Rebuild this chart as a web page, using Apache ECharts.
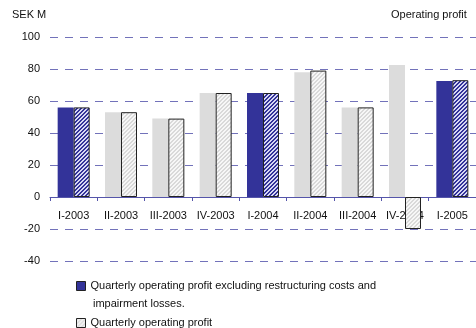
<!DOCTYPE html>
<html>
<head>
<meta charset="utf-8">
<script src="https://cdn.jsdelivr.net/npm/echarts@6/dist/echarts.min.js"></script>
<style>
  html, body { margin: 0; padding: 0; background: #fff; }
  #chart { width: 476px; height: 328px; }
</style>
</head>
<body>
<div id="chart"></div>
<script>
// Quarterly figures, SEK M
const quarters = ['I-2003', 'II-2003', 'III-2003', 'IV-2003', 'I-2004', 'II-2004', 'III-2004', 'IV-2004', 'I-2005'];
const profitExclRestructuring = [56, 53, 49, 65, 65, 78, 56, 82.5, 72.5];
const operatingProfit = [56, 53, 49, 65, 65, 79, 56, -20, 73];
const firstQuarter = [true, false, false, false, true, false, false, false, true];
const yTicks = { min: -40, max: 100, step: 20 };

const seriesNames = [
  'Quarterly operating profit excluding restructuring costs and',
  'Quarterly operating profit'
];
const legendContinuation = 'impairment losses.';

const NAVY = '#333399';
const GREY = '#dcdcdc';

// Diagonal hatch fill drawn on a tiny canvas and tiled
function hatch(bg, fg) {
  const c = document.createElement('canvas');
  c.width = 4; c.height = 4;
  const g = c.getContext('2d');
  g.fillStyle = bg; g.fillRect(0, 0, 4, 4);
  g.fillStyle = fg;
  for (let x = 0; x < 4; x++) {
    for (let y = 0; y < 4; y++) {
      const k = (x + y) % 4;
      if (k === 0 || k === 1) g.fillRect(x, y, 1, 1);
    }
  }
  return { image: c, repeat: 'repeat' };
}
const navyHatch = hatch('#d8d8f4', NAVY);
const greyHatch = hatch('#f7f7f7', '#d9d9d9');

const font = 'Arial, "Liberation Sans", sans-serif';
const txt = { fontFamily: font, fontSize: 11, color: '#111' };

// plot area: 100 at y=37, -40 at y=261, zero line at y=197
const gridTop = 37, gridBottom = 67;
const zeroOffset = -64;

const legendBase = {
  orient: 'horizontal',
  left: 76,
  padding: 0,
  itemWidth: 9,
  itemHeight: 9,
  itemGap: 0,
  icon: 'rect',
  textStyle: Object.assign({ lineHeight: 12 }, txt),
  itemStyle: { borderColor: '#222', borderWidth: 1 }
};

const chart = echarts.init(document.getElementById('chart'), null, { renderer: 'canvas' });
chart.setOption({
  animation: false,
  textStyle: txt,
  title: [
    { text: 'SEK M', left: 12, top: 9, padding: 0, textStyle: Object.assign({ fontWeight: 'normal' }, txt) },
    { text: 'Operating profit', left: 391, top: 9, padding: 0, textStyle: Object.assign({ fontWeight: 'normal' }, txt) }
  ],
  grid: { left: 50, right: -8, top: gridTop, bottom: gridBottom, containLabel: false },
  xAxis: {
    type: 'category',
    data: quarters,
    boundaryGap: true,
    position: 'bottom',
    offset: zeroOffset,
    axisLine: { onZero: false, lineStyle: { color: '#5555aa', width: 1 } },
    axisTick: { show: true, length: 4, lineStyle: { color: '#5555aa' } },
    axisLabel: Object.assign({ margin: 13, interval: 0 }, txt),
    splitLine: { show: false }
  },
  yAxis: {
    type: 'value',
    min: yTicks.min, max: yTicks.max, interval: yTicks.step,
    axisLine: { show: false },
    axisTick: { show: false },
    axisLabel: Object.assign({ margin: 10 }, txt),
    splitLine: { show: true, lineStyle: { color: '#7272ba', type: [8, 7], width: 1 } }
  },
  legend: [
    Object.assign({ top: 280, data: [seriesNames[0]] }, legendBase),
    Object.assign({ top: 317, data: [seriesNames[1]] }, legendBase)
  ],
  graphic: [
    { type: 'text', left: 93, top: 298, style: { text: legendContinuation, fill: '#111', font: '11px ' + font } }
  ],
  series: [
    {
      name: seriesNames[0],
      type: 'bar',
      barWidth: 16,
      barGap: '0%',
      itemStyle: { color: NAVY },
      data: profitExclRestructuring.map((v, i) => ({
        value: v,
        itemStyle: { color: firstQuarter[i] ? NAVY : GREY }
      }))
    },
    {
      name: seriesNames[1],
      type: 'bar',
      barWidth: 16,
      barGap: '0%',
      itemStyle: { color: greyHatch, borderColor: '#222', borderWidth: 1 },
      data: operatingProfit.map((v, i) => ({
        value: v,
        itemStyle: { color: firstQuarter[i] ? navyHatch : greyHatch, borderColor: '#222', borderWidth: 1 }
      }))
    }
  ]
});
</script>
</body>
</html>
